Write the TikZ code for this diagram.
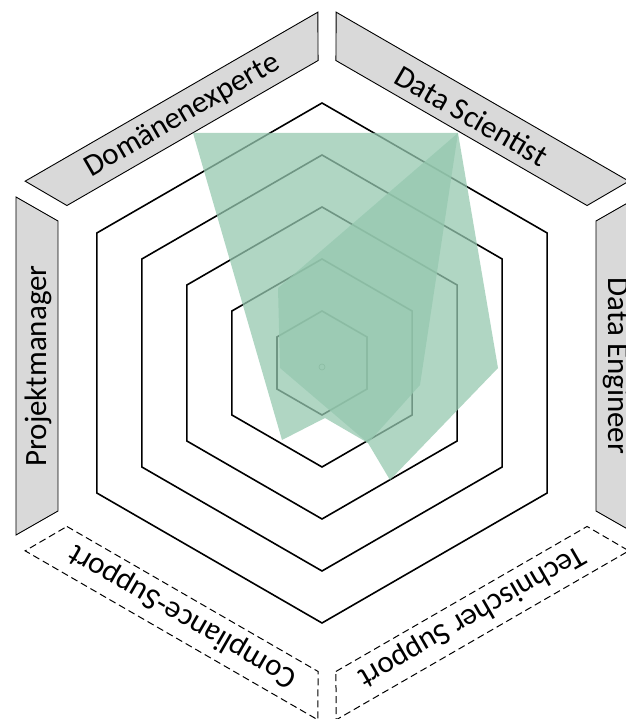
\documentclass[tikz,border=0pt]{standalone}
\usepackage{fontspec}
\setmainfont{Carlito}

\begin{document}
\begin{tikzpicture}[
    x=1pt, y=1pt,
    every node/.style={font=\fontsize{31}{36}\selectfont},
    grid/.style={black, line width=1.6pt, line join=miter},
    rolebox/.style={draw=black, fill=black!15, line width=0.9pt},
    openbox/.style={draw=black, dash pattern=on 7pt off 4pt, line width=1pt},
    share/.style={fill={rgb,255:red,149;green,200;blue,175}, fill opacity=0.75},
]
    \useasboundingbox (-322,-356) rectangle (303,363);

    % levels of the net
    \foreach \r in {1,...,5} {
        \draw[grid] (90:\r*52) \foreach \a in {150,210,270,330,30} { -- (\a:\r*52) } -- cycle;
    }
    \draw[black, line width=0.6pt] (0,-4) circle (3);

    % roles round the net
    \foreach \t/\name/\lbl/\sty in {120/domaene/Domänenexperte/rolebox,
                                    60/scientist/Data Scientist/rolebox,
                                    0/engineer/Data Engineer/rolebox,
                                    300/techsupport/Technischer Support/openbox,
                                    240/compliance/Compliance-Support/openbox,
                                    180/manager/Projektmanager/rolebox} {
        \begin{scope}[shift={(5,-3)}, rotate=\t]
            \draw[\sty] (269,-145) -- (269,145) -- (311,169) -- (311,-169) -- cycle;
            \node[transform shape, rotate=-90] (\name) at (289,0) {\lbl};
        \end{scope}
    }

    % the two profiles
    \fill[share] (-129,230) -- (136,230) -- (98,-22) -- (46,-80) -- (3,-55) -- (-40,-77) -- cycle;
    \fill[share] (136,230) -- (176,-5) -- (68,-117) -- (46,-80) -- (-42,-5) -- (-44,75) -- cycle;

\end{tikzpicture}
\end{document}
